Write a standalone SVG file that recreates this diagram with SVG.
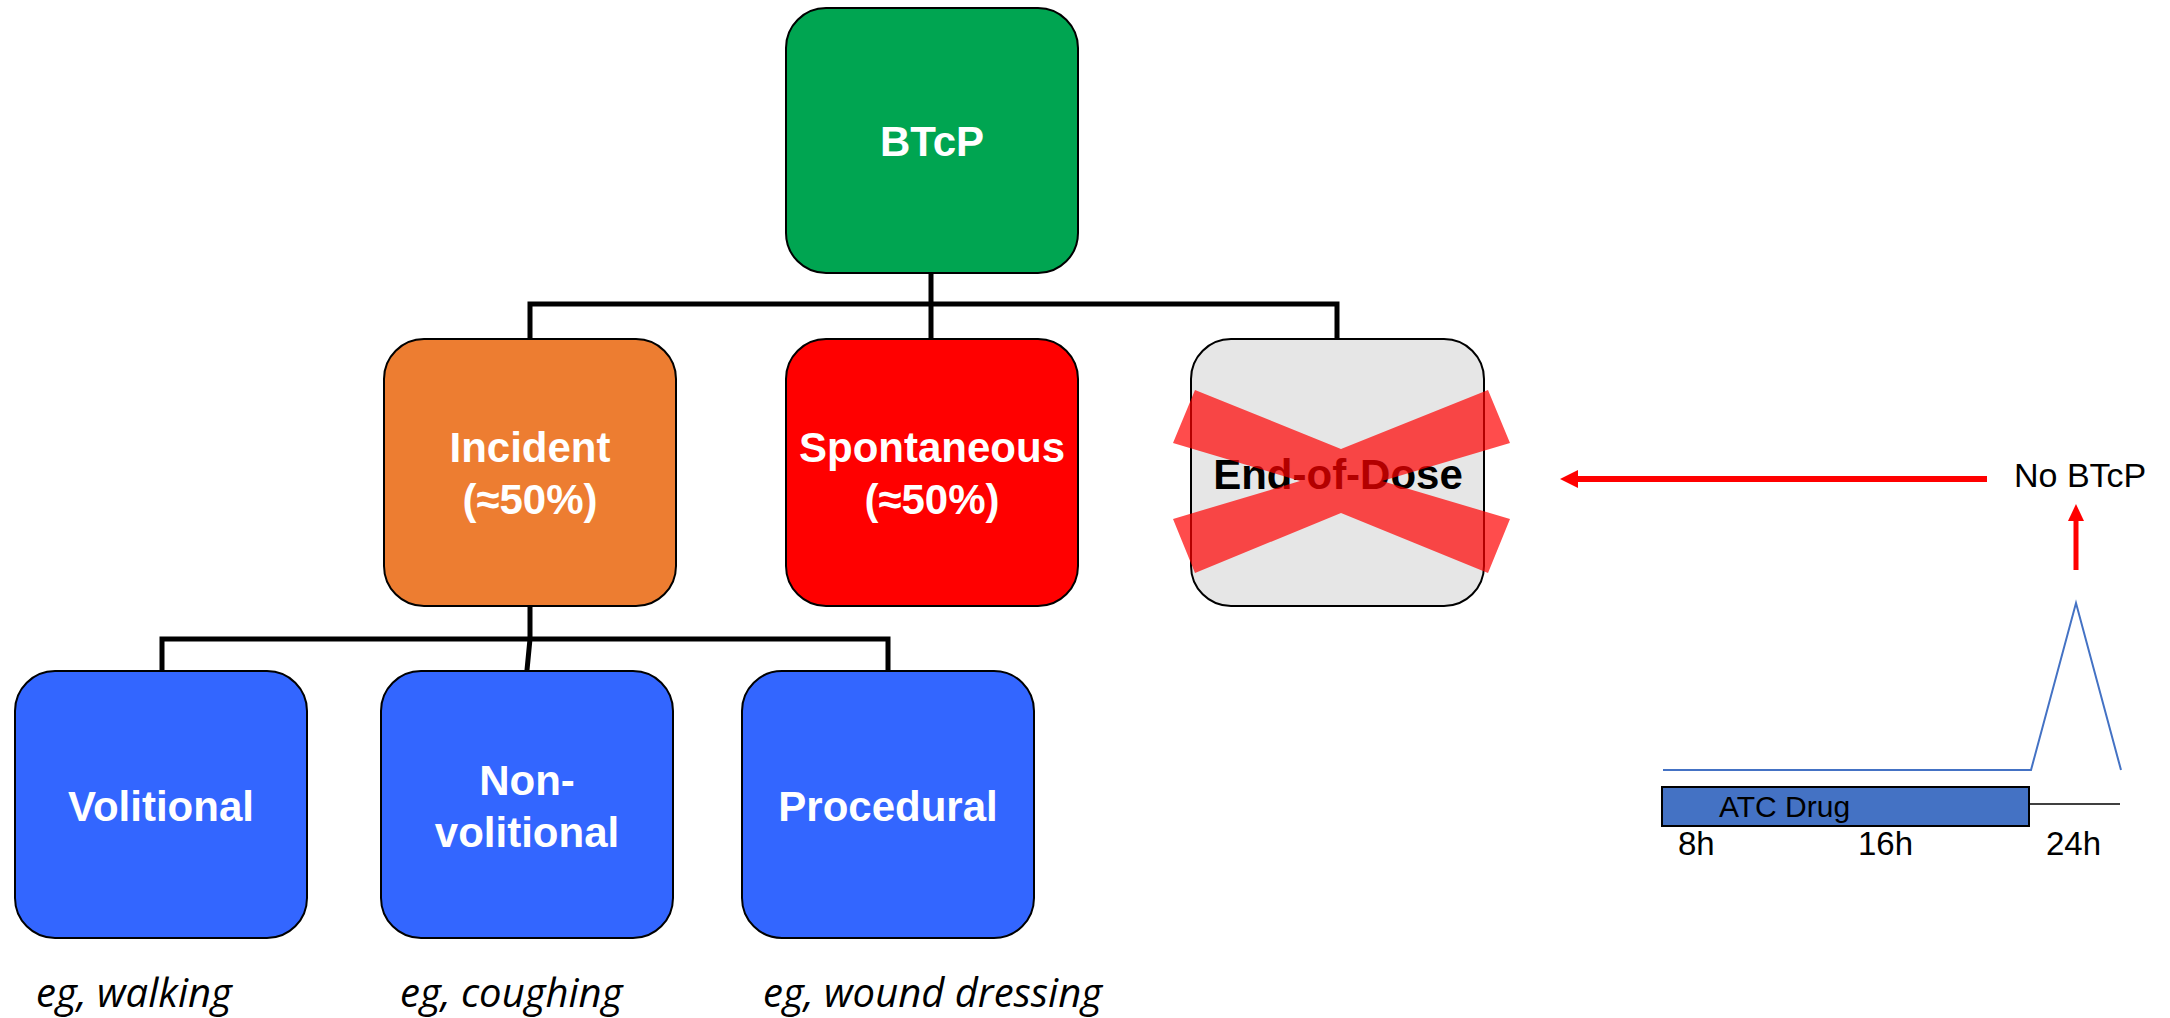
<svg xmlns="http://www.w3.org/2000/svg" width="2170" height="1018" viewBox="0 0 2170 1018">
<style>
.box{stroke:#000;stroke-width:2}
.lbl{font-family:"Liberation Sans",Arial,sans-serif;font-weight:bold;font-size:42px;fill:#fff;text-anchor:middle}
.eg{font-family:"Open Sans","Liberation Sans",sans-serif;font-style:italic;font-size:40px;fill:#000}
.tl{font-family:"Liberation Sans",Arial,sans-serif;fill:#000}
.conn{fill:none;stroke:#000;stroke-width:5;stroke-linecap:square}
</style>
<rect width="2170" height="1018" fill="#fff"/>
<g id="connectors">
<path class="conn" d="M931,273 V304 M530,304 H1337 M530,304 V338 M931,304 V338 M1337,304 V338"/>
<path class="conn" d="M530,606 V639 L527,670 M162,639 H888 M162,639 V670 M888,639 V670"/>
</g>
<g id="btcp">
<rect class="box" x="786" y="8" width="292" height="265" rx="40" fill="#00a551"/>
<text class="lbl" x="932" y="156">BTcP</text>
</g>
<g id="incident">
<rect class="box" x="384" y="339" width="292" height="267" rx="40" fill="#ed7d31"/>
<text class="lbl" x="530" y="462">Incident</text>
<text class="lbl" x="530" y="514">(≈50%)</text>
</g>
<g id="spontaneous">
<rect class="box" x="786" y="339" width="292" height="267" rx="40" fill="#ff0000"/>
<text class="lbl" x="932" y="462">Spontaneous</text>
<text class="lbl" x="932" y="514">(≈50%)</text>
</g>
<g id="end-of-dose">
<rect class="box" x="1191" y="339" width="293" height="267" rx="40" fill="#e6e6e6"/>
<text class="lbl" x="1338" y="489" style="fill:#000">End-of-Dose</text>
<g fill="#ff0000" fill-opacity="0.7">
<polygon points="1173,443 1195,390 1341,449 1488,390 1510,443 1382,481 1510,519 1488,573 1341,513 1195,573 1173,519 1300,481"/>
</g>
</g>
<g id="volitional">
<rect class="box" x="15" y="671" width="292" height="267" rx="40" fill="#3366ff"/>
<text class="lbl" x="161" y="821">Volitional</text>
</g>
<g id="non-volitional">
<rect class="box" x="381" y="671" width="292" height="267" rx="40" fill="#3366ff"/>
<text class="lbl" x="527" y="795">Non-</text>
<text class="lbl" x="527" y="847">volitional</text>
</g>
<g id="procedural">
<rect class="box" x="742" y="671" width="292" height="267" rx="40" fill="#3366ff"/>
<text class="lbl" x="888" y="821">Procedural</text>
</g>
<g id="examples">
<text class="eg" x="36" y="1007">eg, walking</text>
<text class="eg" x="400" y="1007">eg, coughing</text>
<text class="eg" x="763" y="1007">eg, wound dressing</text>
</g>
<g id="timeline">
<line x1="1987" y1="479" x2="1576" y2="479" stroke="#ff0000" stroke-width="6"/>
<polygon points="1560,479 1578,470 1578,488" fill="#ff0000"/>
<text class="tl" x="2014" y="487" font-size="34">No BTcP</text>
<line x1="2076" y1="570" x2="2076" y2="518" stroke="#ff0000" stroke-width="5"/>
<polygon points="2076,504 2068,521 2084,521" fill="#ff0000"/>
<polyline points="1663,770 2031,770 2076,603 2121,770" fill="none" stroke="#4472c4" stroke-width="2"/>
<rect x="1662" y="787" width="367" height="39" fill="#4472c4" stroke="#000" stroke-width="2"/>
<line x1="2029" y1="804" x2="2120" y2="804" stroke="#000" stroke-width="1.5"/>
<text class="tl" x="1719" y="817" font-size="30" fill="#111">ATC Drug</text>
<text class="tl" x="1678" y="855" font-size="33">8h</text>
<text class="tl" x="1858" y="855" font-size="33">16h</text>
<text class="tl" x="2046" y="855" font-size="33">24h</text>
</g>
</svg>
